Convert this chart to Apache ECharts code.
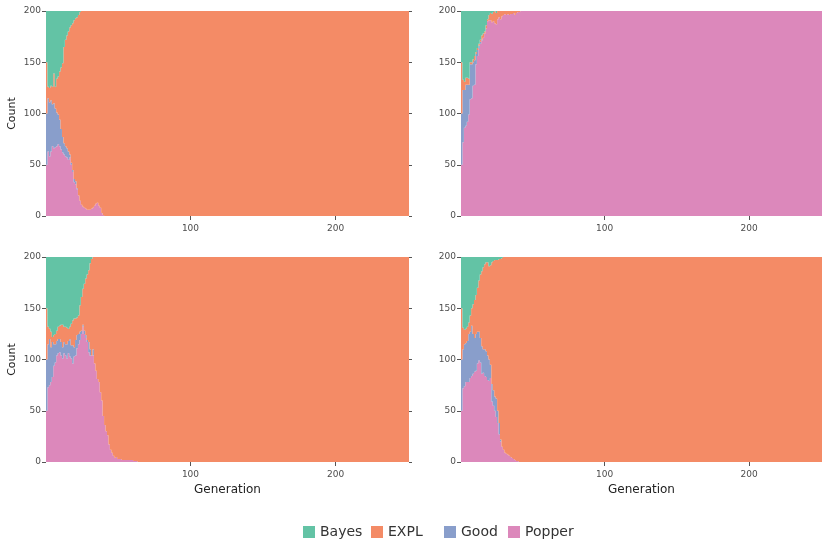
<!DOCTYPE html>
<html><head><meta charset="utf-8">
<script src="https://cdn.jsdelivr.net/npm/echarts/dist/echarts.min.js"></script>
<style>html,body{margin:0;padding:0;background:#fff}#c{width:822px;height:542px}</style>
</head><body><div id="c"></div>
<script>
// ---------- data ----------
const N_GEN = 250;            // generations on the x axis (1..250)
const PLATEAU = 200;          // population size; winner holds it after takeover
const seriesNames = ['Bayes', 'EXPL', 'Good', 'Popper'];
const xTickLabels = ['100', '200'];
const yTickValues = [0, 50, 100, 150, 200];

// Panel A (top-left) – EXPL takes over
const popperA = [50,63,58,63,68,66,67,68,70,68,65,62,60,58,57,55,57,50,43,33,31,26,20,15,11,9,8,7,6,6,6,7,8,10,12,13,10,8,3,1];
const goodA   = [50,52,53,50,41,44,38,33,29,26,20,15,11,10,9,8,3,2,2,3,3,1];
const explA   = [50,11,14,14,17,29,21,33,37,47,60,72,94,104,110,117,124,134,143,155,159,167,176,184,189,191,192,193,194,194,194,193,192,190,188,187,190,192,197,199];
const bayesA  = [50,74,75,73,74,61,74,66,64,59,55,51,35,28,24,20,16,14,12,9,7,6,4,1];

// Panel B (top-right) – Popper takes over
const popperB = [50,72,86,88,92,99,114,115,127,128,148,156,163,168,171,174,178,183,190,191,191,189,190,188,187,192,194,192,195,196,197,196,197,196,197,197,198,196,198,199,199];
const goodB   = [50,51,37,40,36,29,34,33,23,24,10,6,3,2,1];
const explB   = [50,10,8,7,7,6,2,2,3,4,2,2,2,2,4,4,2,3,2,5,7,8,9,12,11,8,6,8,5,4,3,4,3,4,3,3,2,4,2,1,1];
const bayesB  = [50,67,69,65,65,66,50,50,47,44,40,36,32,28,24,22,20,14,8,4,2,3,1,0,2];

// Panel C (bottom-left) – EXPL takes over
const popperC = [50,73,75,78,83,94,97,104,106,107,104,101,106,104,101,106,103,101,96,103,104,111,115,119,125,132,125,121,117,107,104,104,104,96,89,81,78,68,60,45,36,30,26,17,12,9,6,4,5,3,3,3,2,2,2,2,2,2,2,2,1,1,1];
const goodC   = [50,42,45,34,34,21,18,14,14,13,13,11,11,11,14,12,17,13,18,9,15,13,10,8,3,2,3,3,2,10,6,0,6];
const explC   = [50,17,10,15,5,9,10,10,12,13,17,22,15,17,16,12,12,21,24,28,21,17,18,26,33,35,46,55,64,70,84,94,90,104,111,119,122,132,140,155,164,170,174,183,188,191,194,196,195,197,197,197,198,198,198,198,198,198,198,198,199,199,199];
const bayesC  = [50,68,70,73,78,76,75,72,68,67,66,66,68,68,69,70,68,65,62,60,60,59,57,47,39,31,26,21,17,13,6,2];

// Panel D (bottom-right) – EXPL takes over
const popperD = [50,72,74,78,78,78,82,84,86,88,89,96,99,97,86,87,84,83,80,79,82,59,55,50,44,38,27,20,15,12,9,8,7,6,5,4,3,2,1,1];
const goodD   = [50,38,41,38,40,47,45,49,39,33,36,31,28,24,27,23,26,25,24,21,13,17,15,14,18,12,11,2];
const explD   = [50,21,14,14,14,11,16,17,29,37,38,43,50,62,73,80,83,87,91,91,97,119,126,133,135,147,160,176,184,188,191,192,193,194,195,196,197,198,199,199];
const bayesD  = [50,69,71,70,68,64,57,50,46,42,37,30,23,17,14,10,7,5,5,9,8,5,4,3,3,3,2,2,1];

// ---------- build ----------
const colors = {Bayes:'#63c3a5', EXPL:'#f48b66', Good:'#899ecb', Popper:'#dc88bb'};
const generations = [];
for (let g = 1; g <= N_GEN; g++) generations.push(String(g));
function pad(arr, fill) {
  const out = arr.slice();
  while (out.length < N_GEN) out.push(fill);
  return out;
}
const panels = [
  {Popper:pad(popperA,0), Good:pad(goodA,0), EXPL:pad(explA,PLATEAU), Bayes:pad(bayesA,0)},
  {Popper:pad(popperB,PLATEAU), Good:pad(goodB,0), EXPL:pad(explB,0), Bayes:pad(bayesB,0)},
  {Popper:pad(popperC,0), Good:pad(goodC,0), EXPL:pad(explC,PLATEAU), Bayes:pad(bayesC,0)},
  {Popper:pad(popperD,0), Good:pad(goodD,0), EXPL:pad(explD,PLATEAU), Bayes:pad(bayesD,0)}
];
const gridPos = [
  {left:46, top:11, width:363, height:205},
  {left:461, top:11, width:362, height:205},
  {left:46, top:257, width:363, height:205},
  {left:461, top:257, width:362, height:205}
];
const FONT = 'DejaVu Sans';
const tickColor = '#555';
const labelColor = '#4d4d4d';
const showTick = (idx, val) => xTickLabels.indexOf(val) >= 0;

const grid = gridPos.map(p => Object.assign({containLabel:false}, p));
const xAxis = [], yAxis = [], series = [];
gridPos.forEach((p, i) => {
  xAxis.push({
    type:'category', gridIndex:i, data:generations, boundaryGap:true,
    axisLine:{show:false},
    axisTick:{show:true, interval:showTick, alignWithLabel:true, length:4, lineStyle:{color:tickColor}},
    axisLabel:{show:true, interval:showTick, fontFamily:FONT, fontSize:9, color:labelColor, margin:8},
    splitLine:{show:false},
    name: i >= 2 ? 'Generation' : '', nameLocation:'middle', nameGap:22,
    nameTextStyle:{fontFamily:FONT, fontSize:12, color:'#222'}
  });
  yAxis.push({
    type:'value', gridIndex:i, min:0, max:200, interval:50,
    axisLine:{show:false},
    axisTick:{show:true, length:4, lineStyle:{color:tickColor}},
    axisLabel:{fontFamily:FONT, fontSize:9, color:labelColor, margin:5},
    splitLine:{show:false},
    name: (i % 2 === 0) ? 'Count' : '', nameLocation:'middle', nameGap:28,
    nameTextStyle:{fontFamily:FONT, fontSize:11, color:'#222'}
  });
});
gridPos.forEach((p, i) => {
  xAxis.push({
    type:'category', gridIndex:i, data:generations, position:'top', boundaryGap:true,
    axisLine:{show:false},
    axisTick:{show:true, interval:showTick, alignWithLabel:true, length:3, lineStyle:{color:tickColor}},
    axisLabel:{show:false}, splitLine:{show:false}
  });
  yAxis.push({
    type:'value', gridIndex:i, min:0, max:200, interval:50, position:'right',
    axisLine:{show:false},
    axisTick:{show:true, length:3, lineStyle:{color:tickColor}},
    axisLabel:{show:false}, splitLine:{show:false}
  });
});
const stackOrder = ['Popper', 'Good', 'EXPL', 'Bayes'];
panels.forEach((pd, i) => {
  stackOrder.forEach(name => {
    series.push({
      type:'bar', name:name, xAxisIndex:i, yAxisIndex:i, stack:'s' + i,
      data: pd[name], barWidth:'100%', barCategoryGap:'0%',
      large:true, largeThreshold:1,
      itemStyle:{color:colors[name], borderWidth:0},
      emphasis:{disabled:true}, silent:true
    });
  });
});
const legendLeft = {Bayes:303, EXPL:371, Good:444, Popper:508};
const legend = seriesNames.map(n => ({
  data:[{name:n, icon:'rect', itemStyle:{color:colors[n]}}], left:legendLeft[n], top:525, padding:0,
  itemWidth:12, itemHeight:12, itemGap:0,
  textStyle:{fontFamily:FONT, fontSize:14, color:'#333'},
  selectedMode:false
}));

const chart = echarts.init(document.getElementById('c'), null, {renderer:'canvas'});
chart.setOption({
  animation:false,
  color: seriesNames.map(n => colors[n]),
  grid, xAxis, yAxis, series, legend
});
</script></body></html>
